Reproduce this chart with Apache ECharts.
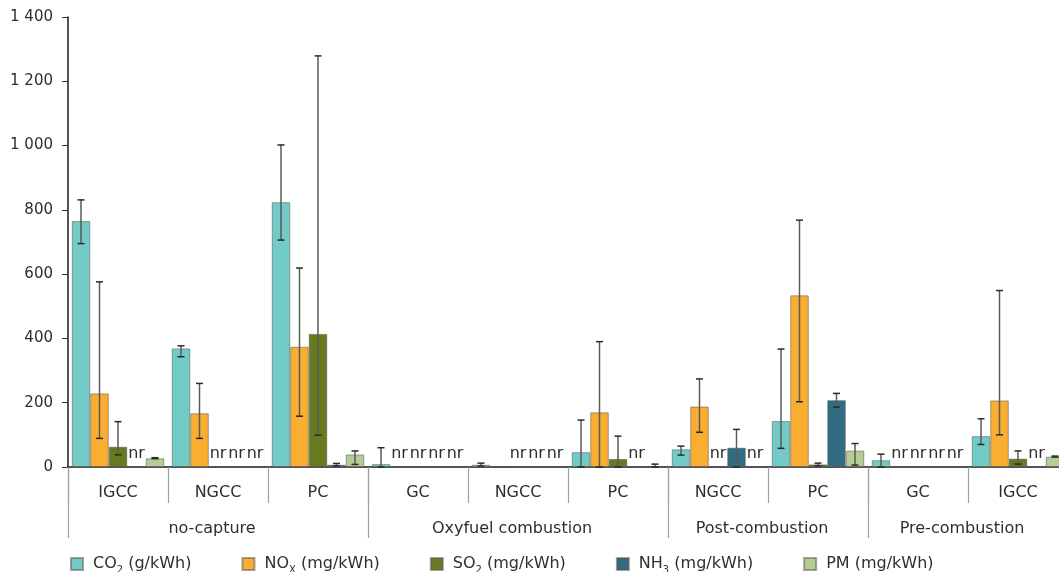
<!DOCTYPE html>
<html>
<head>
<meta charset="utf-8">
<script src="https://cdn.jsdelivr.net/npm/echarts@6/dist/echarts.min.js"></script>
<style>
  html, body { margin: 0; padding: 0; background: #fff; }
  #chart { width: 1059px; height: 572px; }
</style>
</head>
<body>
<div id="chart"></div>
<script>
// Plant types (inner axis level) and capture routes (outer level)
const categories = ['IGCC', 'NGCC', 'PC', 'GC', 'NGCC', 'PC', 'NGCC', 'PC', 'GC', 'IGCC'];
const groups = ['no-capture', 'Oxyfuel combustion', 'Post-combustion', 'Pre-combustion'];
const groupSpans = [3, 3, 2, 2];
const yTicks = [0, 200, 400, 600, 800, 1000, 1200, 1400];

// Emission values; 'nr' = not reported, null = no entry
const co2     = [765, 369, 824, 9, 7, 46, 55, 143, 21, 96];
const co2Low  = [695, 343, 706, 0, 3, 0, 37, 58, 0, 70];
const co2High = [831, 377, 1002, 60, 12, 146, 65, 367, 40, 150];

const nox     = [229, 167, 374, 'nr', null, 170, 188, 534, 'nr', 207];
const noxLow  = [89, 89, 158, null, null, 0, 108, 203, null, 100];
const noxHigh = [576, 260, 619, null, null, 390, 274, 768, null, 549];

const so2     = [63, 'nr', 414, 'nr', 'nr', 25, 'nr', 8, 'nr', 26];
const so2Low  = [38, null, 99, null, null, 0, null, 4, null, 9];
const so2High = [141, null, 1279, null, null, 96, null, 12, null, 50];

const nh3     = ['nr', 'nr', 7, 'nr', 'nr', 'nr', 60, 208, 'nr', 'nr'];
const nh3Low  = [null, null, 3, null, null, null, 0, 186, null, null];
const nh3High = [null, null, 11, null, null, null, 117, 229, null, null];

const pm      = [27, 'nr', 39, 'nr', 'nr', 1, 'nr', 51, 'nr', 32];
const pmLow   = [26, null, 8, null, null, 0, null, 6, null, 31];
const pmHigh  = [29, null, 50, null, null, 9, null, 73, null, 34];

const seriesDefs = [
  { name: 'CO2 (g/kWh)',  label: '{t|CO}{s|2}{t| (g/kWh)}',  color: '#73cbc8', values: co2, low: co2Low, high: co2High },
  { name: 'NOx (mg/kWh)', label: '{t|NO}{s|X}{t| (mg/kWh)}', color: '#f9ae31', values: nox, low: noxLow, high: noxHigh },
  { name: 'SO2 (mg/kWh)', label: '{t|SO}{s|2}{t| (mg/kWh)}', color: '#677a1f', values: so2, low: so2Low, high: so2High },
  { name: 'NH3 (mg/kWh)', label: '{t|NH}{s|3}{t| (mg/kWh)}', color: '#316c82', values: nh3, low: nh3Low, high: nh3High },
  { name: 'PM (mg/kWh)',  label: '{t|PM (mg/kWh)}',          color: '#b4cd94', values: pm,  low: pmLow,  high: pmHigh }
];

const FONT = 'DejaVu Sans';
const TEXT = '#2e2e2e';
const CAT_GAP = 0.075;      // share of each category left empty around its bars
const N = seriesDefs.length;

// Outer-level tick boundaries and label centres, in category units
const groupBounds = [0];
const groupCentres = [];
groupSpans.forEach(s => {
  const start = groupBounds[groupBounds.length - 1];
  groupCentres.push(start + s / 2);
  groupBounds.push(start + s);
});

const barSeries = seriesDefs.map(def => ({
  type: 'bar',
  name: def.name,
  xAxisIndex: 0,
  barGap: '0%',
  barCategoryGap: (CAT_GAP * 100) + '%',
  itemStyle: { color: def.color, borderColor: 'rgba(90,90,90,0.55)', borderWidth: 1 },
  data: def.values.map(v => {
    if (v === 'nr') {
      return {
        value: 0,
        label: {
          show: true, position: 'top', distance: 5, formatter: 'nr',
          fontFamily: FONT, fontSize: 16, color: TEXT
        }
      };
    }
    return v === null ? '-' : v;
  })
}));

const errorSeries = seriesDefs.map((def, idx) => ({
  type: 'custom',
  name: def.name,
  xAxisIndex: 0,
  z: 5,
  data: def.low.map((lo, i) => lo === null ? null : [i, lo, def.high[i]]).filter(d => d),
  renderItem: function (params, api) {
    const cat = api.value(0);
    const bandW = api.size([1, 0])[0];
    const barW = bandW * (1 - CAT_GAP) / N;
    const cx = api.coord([cat, 0])[0] + (idx - (N - 1) / 2) * barW;
    const yLo = api.coord([cat, api.value(1)])[1];
    const yHi = api.coord([cat, api.value(2)])[1];
    const half = 3.5;
    const stem = { stroke: '#5a5a5a', lineWidth: 1.5 };
    const cap = { stroke: '#2a2a2a', lineWidth: 1.5 };
    return {
      type: 'group',
      children: [
        { type: 'line', shape: { x1: cx, y1: yLo, x2: cx, y2: yHi }, style: stem },
        { type: 'line', shape: { x1: cx - half, y1: yHi, x2: cx + half, y2: yHi }, style: cap },
        { type: 'line', shape: { x1: cx - half, y1: yLo, x2: cx + half, y2: yLo }, style: cap }
      ]
    };
  }
}));

const legendText = {};
seriesDefs.forEach(d => { legendText[d.name] = d.label; });

const chart = echarts.init(document.getElementById('chart'), null, { renderer: 'canvas' });
chart.setOption({
  animation: false,
  backgroundColor: '#fff',
  textStyle: { fontFamily: FONT },
  // the last category runs a little past the right edge of the page
  grid: { left: 68, top: 17, width: 1000, height: 450, containLabel: false, outerBoundsMode: 'none' },
  legend: {
    data: seriesDefs.map(d => d.name),
    left: 65, top: 551,
    icon: 'rect', itemWidth: 12, itemHeight: 12, itemGap: 50,
    formatter: name => legendText[name],
    textStyle: {
      color: TEXT, fontFamily: FONT, fontSize: 16,
      padding: [0, 0, 0, 5],
      rich: {
        t: { fontFamily: FONT, fontSize: 16, color: TEXT, lineHeight: 22, verticalAlign: 'middle' },
        s: { fontFamily: FONT, fontSize: 10, color: TEXT, lineHeight: 22, verticalAlign: 'bottom' }
      }
    }
  },
  xAxis: [
    {
      type: 'category',
      data: categories,
      position: 'bottom',
      axisLine: { show: true, lineStyle: { color: '#1a1a1a', width: 1.5 } },
      axisTick: { show: true, interval: 0, length: 36, lineStyle: { color: '#a0a0a0', width: 1.2 } },
      axisLabel: { interval: 0, margin: 18, fontFamily: FONT, fontSize: 16, color: TEXT },
      splitLine: { show: false }
    },
    {
      type: 'value',
      min: 0, max: categories.length,
      position: 'bottom',
      axisLine: { show: false },
      axisTick: { show: true, length: 71, customValues: groupBounds, lineStyle: { color: '#a0a0a0', width: 1.2 } },
      axisLabel: {
        customValues: groupCentres, margin: 54,
        padding: [0, 12, 0, 0],
        fontFamily: FONT, fontSize: 16, color: TEXT,
        formatter: v => {
          const k = groupCentres.indexOf(v);
          return k >= 0 ? groups[k] : '';
        }
      },
      splitLine: { show: false }
    }
  ],
  yAxis: {
    type: 'value',
    min: yTicks[0], max: yTicks[yTicks.length - 1], interval: yTicks[1] - yTicks[0],
    axisLine: { show: true, lineStyle: { color: '#1a1a1a', width: 1.5 } },
    axisTick: { show: true, length: 6, lineStyle: { color: '#333' } },
    axisLabel: {
      margin: 15, fontFamily: FONT, fontSize: 15, color: TEXT,
      formatter: v => String(v).replace(/\B(?=(\d{3})+(?!\d))/g, ' ')
    },
    splitLine: { show: false }
  },
  series: barSeries.concat(errorSeries)
});
</script>
</body>
</html>
